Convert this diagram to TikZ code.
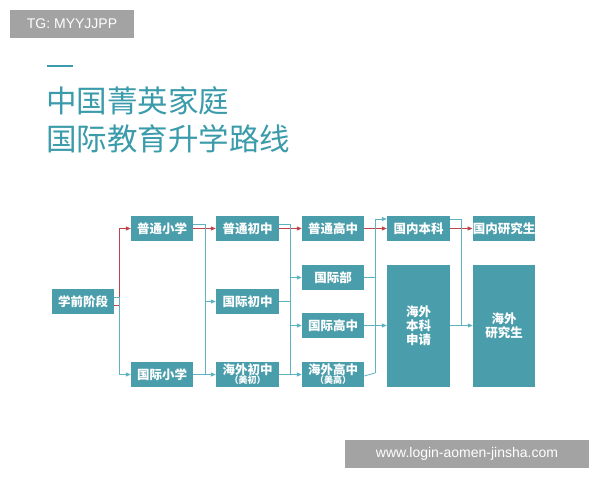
\documentclass[tikz,border=0pt]{standalone}
\usepackage{fontspec}
\setmainfont{Noto Sans CJK SC}
\newfontfamily\latinf{Liberation Sans}
\usetikzlibrary{arrows.meta}
\definecolor{boxc}{HTML}{4A9DAA}
\definecolor{titc}{HTML}{3A9BAA}
\definecolor{redc}{HTML}{C0444C}
\definecolor{linec}{HTML}{5DB3BF}
\definecolor{tagc}{HTML}{A3A3A3}
\begin{document}
\begin{tikzpicture}[x=1pt,y=-1pt,
  bx/.style={fill=boxc,text=white,inner sep=0pt,font=\bfseries\fontsize{12.5}{14}\selectfont},
  tg/.style={fill=tagc,text=white,inner sep=0pt,font=\latinf\fontsize{14}{15}\selectfont},
  rl/.style={draw=redc,line width=0.8pt,-{Triangle[length=5pt,width=4pt]}},
  tl/.style={draw=linec,line width=0.8pt,-{Triangle[length=5pt,width=4pt]}},
  tn/.style={draw=linec,line width=0.8pt}]
\useasboundingbox (0,0) rectangle (600,480);
\fill[white] (0,0) rectangle (600,480);
% tags
\node[tg,minimum width=124pt,minimum height=28pt] (tag1) at (72,24) {TG: MYYJJPP};
\node[tg,minimum width=244pt,minimum height=28pt] (tag2) at (467,454) {www.login-aomen-jinsha.com};
% title
\draw[titc,line width=2pt] (47,66) -- (73,66);
\node[anchor=west,text=titc,inner sep=0pt,font=\fontsize{30.5}{32}\selectfont] (t1) at (46,101) {中国菁英家庭};
\node[anchor=west,text=titc,inner sep=0pt,font=\fontsize{30.5}{32}\selectfont] (t2) at (46,139) {国际教育升学路线};
% boxes
\node[bx,minimum width=62pt,minimum height=25pt] (pre) at (83,301.5) {学前阶段};
\node[bx,minimum width=62pt,minimum height=25pt] (pxx) at (162,228.5) {普通小学};
\node[bx,minimum width=62pt,minimum height=25pt] (gxx) at (162,374.5) {国际小学};
\node[bx,minimum width=63pt,minimum height=25pt] (pcz) at (247.5,228.5) {普通初中};
\node[bx,minimum width=63pt,minimum height=25pt] (gcz) at (247.5,301.5) {国际初中};
\node[bx,minimum width=63pt,minimum height=25pt,align=center] (hcz) at (247.5,374.5) {海外初中\\[-5pt]{\fontsize{9}{10}\selectfont （美初）}};
\node[bx,minimum width=62pt,minimum height=25pt] (pgz) at (333,228.5) {普通高中};
\node[bx,minimum width=62pt,minimum height=25pt] (gjb) at (333,277.5) {国际部};
\node[bx,minimum width=62pt,minimum height=25pt] (ggz) at (333,325.5) {国际高中};
\node[bx,minimum width=62pt,minimum height=25pt,align=center] (hgz) at (333,374.5) {海外高中\\[-5pt]{\fontsize{9}{10}\selectfont （美高）}};
\node[bx,minimum width=63pt,minimum height=25pt] (gnbk) at (418.5,228.5) {国内本科};
\node[bx,minimum width=63pt,minimum height=122pt,align=center] (hwbk) at (418.5,326) {海外\\本科\\申请};
\node[bx,minimum width=62pt,minimum height=25pt] (gnyj) at (504,228.5) {国内研究生};
\node[bx,minimum width=62pt,minimum height=122pt,align=center] (hwyj) at (504,326) {海外\\研究生};
% connectors
\draw[rl] ([yshift=-4pt]pre.east) -| ++(5,0) |- (pxx.west);
\draw[tl] ([yshift=4.5pt]pre.east) -| ++(5,0) |- (gxx.west);
\draw[rl] (pxx) -- (pcz);
\draw[rl] (pcz) -- (pgz);
\draw[rl] (pgz) -- (gnbk);
\draw[rl] (gnbk) -- (gnyj);
\coordinate (c1) at (205,374.5);
\draw[tn] ([yshift=4.5pt]pxx.east) -| (c1);
\draw[tn] (gxx.east) -- (c1);
\draw[tl] (c1) -- (hcz.west);
\draw[tl] (205,301.5) -- (gcz.west);
\coordinate (c2) at (290,374.5);
\draw[tn] ([yshift=4.5pt]pcz.east) -| (c2);
\draw[tn] (gcz.east) -- (290,301.5);
\draw[tn] (hcz.east) -- (c2);
\draw[tl] (c2) -- (hgz.west);
\draw[tl] (290,277.5) -- (gjb.west);
\draw[tl] (290,325.5) -- (ggz.west);
\coordinate (c3) at (375,373);
\draw[tn] (gjb.east) -- (375,277.5);
\draw[tn] ([yshift=-1.5pt]hgz.east) -- (c3);
\draw[tl] (c3) |- ([yshift=9.5pt]gnbk.west);
\draw[tl] (ggz.east) -- (ggz.east -| hwbk.west);
\draw[tl] ([yshift=9.5pt]gnbk.east) -| (461,325.5) -- (hwyj.west |- 0,325.5);
\draw[tn] (hwbk.east |- 0,325.5) -- (461,325.5);
\end{tikzpicture}
\end{document}
